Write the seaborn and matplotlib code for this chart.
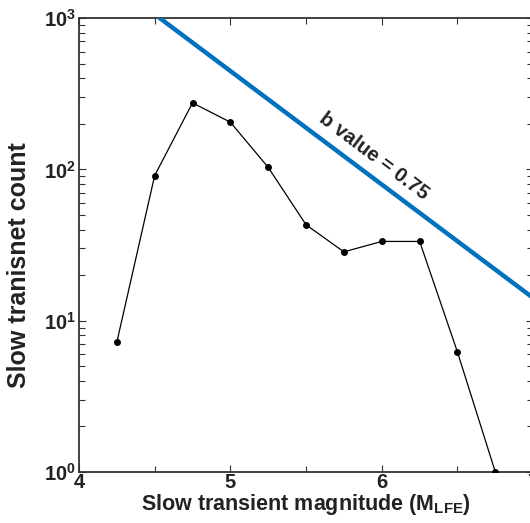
import numpy as np
import pandas as pd
import seaborn as sns
import matplotlib
matplotlib.use("Agg")
import matplotlib.pyplot as plt
from matplotlib.ticker import FixedLocator, LogLocator, NullFormatter, FixedFormatter

# Data
magnitudes = [4.25, 4.5, 4.75, 5.0, 5.25, 5.5, 5.75, 6.0, 6.25, 6.5, 6.75]
counts = [7.2, 91, 275, 205, 103, 43, 28.5, 33.4, 33.4, 6.2, 1.0]
b_value = 0.75
a_value = 6.4
line_x = [4.53, 7.0]
line_y = [10 ** (a_value - b_value * m) for m in line_x]

x_tick_vals = [4, 5, 6, 7]
x_tick_labels = ["4", "5", "6", "7"]
y_tick_vals = [1, 10, 100, 1000]
y_tick_labels = [r"$10^{0}$", r"$10^{1}$", r"$10^{2}$", r"$10^{3}$"]

sns.set_theme(style="ticks")
plt.rcParams["font.family"] = ["Liberation Sans", "DejaVu Sans"]
plt.rcParams["font.weight"] = "bold"
plt.rcParams["mathtext.fontset"] = "custom"
plt.rcParams["mathtext.rm"] = "Liberation Sans:bold"
plt.rcParams["mathtext.bf"] = "Liberation Sans:bold"
plt.rcParams["mathtext.it"] = "Liberation Sans:bold"

fig = plt.figure(figsize=(5.30, 5.23), dpi=100)
ax = fig.add_axes([0.149, 0.0975, 0.857, 0.868])

df = pd.DataFrame({"mag": magnitudes, "count": counts})
bdf = pd.DataFrame({"mag": line_x, "count": line_y})

sns.lineplot(data=bdf, x="mag", y="count", ax=ax, color="#0072BD", linewidth=3.2,
             zorder=3)
sns.lineplot(data=df, x="mag", y="count", ax=ax, color="black", linewidth=0.9,
             marker="o", markersize=5, markeredgewidth=0, zorder=4)

ax.set_yscale("log")
ax.set_xlim(4, 7)
ax.set_ylim(1, 1000)

ax.xaxis.set_major_locator(FixedLocator(x_tick_vals))
ax.xaxis.set_major_formatter(FixedFormatter(x_tick_labels))
ax.xaxis.set_minor_locator(FixedLocator([4.5, 5.5, 6.5]))
ax.yaxis.set_major_locator(FixedLocator(y_tick_vals))
ax.yaxis.set_major_formatter(FixedFormatter(y_tick_labels))
ax.yaxis.set_minor_locator(LogLocator(base=10, subs=np.arange(2, 10)))
ax.yaxis.set_minor_formatter(NullFormatter())

for sp in ax.spines.values():
    sp.set_visible(True)
    sp.set_linewidth(1.3)
    sp.set_color("#333333")

ax.tick_params(axis="both", which="both", direction="in", top=True, right=True,
               color="#333333", width=0.8)
ax.tick_params(axis="both", which="major", length=5, labelsize=14.5, pad=2)
ax.tick_params(axis="both", which="minor", length=4)
ax.tick_params(axis="x", which="major", pad=1)

for lab in ax.get_xticklabels() + ax.get_yticklabels():
    lab.set_fontweight("bold")
    lab.set_color("#222222")

ax.set_xlabel(r"Slow transient magnitude (M$_{\mathregular{LFE}}$)", fontsize=15.5,
              fontweight="bold", color="#222222", labelpad=0)
ax.set_ylabel("Slow tranisnet count", fontsize=18, fontweight="bold",
              color="#222222")
ax.yaxis.set_label_coords(-0.105, 0.455)

ax.text(5.95, 122, "b value = 0.75", rotation=-37, rotation_mode="anchor",
        ha="center", va="center", fontsize=14.5, fontweight="bold", color="#222222")

ax.grid(False)
fig.savefig("out.png", dpi=100)
